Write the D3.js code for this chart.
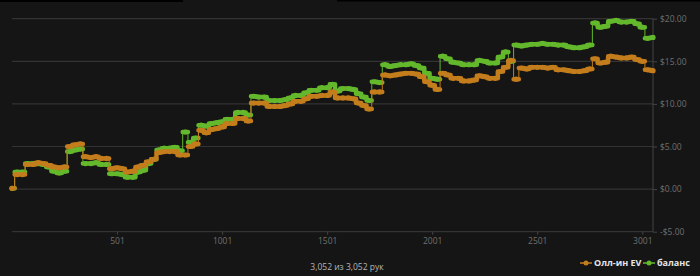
<!DOCTYPE html>
<html>
<head>
<meta charset="utf-8">
<script src="https://cdn.jsdelivr.net/npm/d3@7"></script>
<style>
  html, body { margin: 0; padding: 0; background: #151515; }
  svg { display: block; }
</style>
</head>
<body>
<svg id="chart" width="700" height="276"></svg>
<script>
// hands sampled along the x axis
var hands = [1, 26, 51, 76, 101, 126, 151, 176, 201, 226, 251, 276, 301, 326, 351, 376, 401, 426, 451, 476,
  501, 526, 551, 576, 601, 626, 651, 676, 701, 726, 751, 776, 801, 826, 851, 876, 901, 926, 951, 976,
  1001, 1026, 1051, 1076, 1101, 1126, 1151, 1176, 1201, 1226, 1251, 1276, 1301, 1326, 1351, 1376, 1401, 1426, 1451, 1476,
  1501, 1526, 1551, 1576, 1601, 1626, 1651, 1676, 1701, 1726, 1751, 1776, 1801, 1826, 1851, 1876, 1901, 1926, 1951, 1976,
  2001, 2026, 2051, 2076, 2101, 2126, 2151, 2176, 2201, 2226, 2251, 2276, 2301, 2326, 2351, 2376, 2401, 2426, 2451, 2476,
  2501, 2526, 2551, 2576, 2601, 2626, 2651, 2676, 2701, 2726, 2751, 2776, 2801, 2826, 2851, 2876, 2901, 2926, 2951, 2976,
  3001, 3026, 3052];

// all-in EV (orange)
var allinEV = [0.1, 1.7, 1.7, 2.9, 2.9, 3.1, 3.0, 2.8, 2.6, 2.5, 2.6, 5.0, 5.2, 5.3, 3.8, 3.7, 3.8, 3.6, 3.6, 2.4,
  2.5, 2.4, 2.0, 2.1, 2.6, 2.8, 3.2, 3.5, 4.3, 4.4, 4.4, 4.4, 4.0, 4.0, 5.0, 5.3, 6.9, 6.6, 7.0, 7.1,
  7.3, 7.7, 7.7, 8.3, 8.3, 8.0, 10.1, 10.1, 10.1, 9.7, 9.7, 9.7, 9.8, 10.0, 10.3, 10.3, 10.6, 10.9, 10.9, 11.0,
  11.0, 11.4, 10.7, 10.7, 10.7, 10.6, 10.1, 9.8, 9.4, 11.4, 11.4, 13.4, 13.3, 13.4, 13.5, 13.6, 13.6, 13.5, 13.2, 12.6,
  12.2, 11.7, 13.6, 13.4, 13.0, 13.0, 12.7, 12.7, 12.8, 13.3, 13.2, 13.0, 13.0, 13.8, 14.3, 15.1, 12.9, 14.2, 14.1, 14.3,
  14.3, 14.3, 14.2, 14.3, 14.0, 14.0, 13.9, 13.8, 13.8, 13.9, 14.1, 15.3, 14.8, 14.9, 15.6, 15.5, 15.4, 15.4, 15.5, 15.2,
  15.0, 14.0, 13.9];

// balance (green)
var balance = [0.1, 2.0, 2.0, 3.0, 3.0, 3.0, 2.9, 2.6, 2.1, 1.9, 2.1, 4.4, 4.6, 4.7, 3.0, 3.0, 3.1, 2.9, 2.9, 1.8,
  1.8, 1.7, 1.4, 1.4, 2.0, 2.2, 3.0, 3.5, 4.6, 4.8, 4.8, 4.9, 4.5, 6.7, 5.5, 6.0, 7.5, 7.4, 7.7, 7.8,
  7.9, 8.2, 8.2, 9.0, 9.0, 8.7, 10.9, 10.8, 10.8, 10.4, 10.4, 10.4, 10.5, 10.7, 11.0, 11.0, 11.3, 11.6, 11.6, 11.9,
  11.9, 12.3, 11.5, 11.8, 11.8, 11.7, 11.2, 10.8, 10.4, 12.6, 12.5, 14.6, 14.4, 14.5, 14.6, 14.6, 14.7, 14.5, 14.2, 13.6,
  13.0, 12.9, 15.6, 15.3, 14.9, 14.8, 14.6, 14.6, 14.6, 15.1, 15.0, 14.8, 14.8, 15.5, 16.1, 15.0, 16.9, 16.8, 16.9, 17.0,
  17.0, 17.1, 17.0, 17.0, 16.9, 16.9, 16.7, 16.6, 16.6, 16.7, 16.9, 19.5, 19.0, 19.1, 19.7, 19.8, 19.6, 19.6, 19.7, 19.4,
  19.0, 17.7, 17.8];

var xTicks = [501, 1001, 1501, 2001, 2501, 3001];
var yTicks = [-5, 0, 5, 10, 15, 20];
var seriesNames = ["Олл-ин EV", "баланс"];
var seriesColors = ["#c47d1c", "#63b82c"];
var footerText = "3,052 из 3,052 рук";

var svg = d3.select("#chart");

// thin black strip along the top edge
svg.append("rect").attr("x", 0).attr("y", 0).attr("width", 183).attr("height", 2).attr("fill", "#000");
svg.append("rect").attr("x", 337).attr("y", 0).attr("width", 363).attr("height", 1.5).attr("fill", "#000");

var x = d3.scaleLinear().domain([1, 3052]).range([12, 653]);
var y = d3.scaleLinear().domain([-5, 20]).range([231.7, 18.7]);

// horizontal grid
svg.append("g")
  .selectAll("line")
  .data(yTicks)
  .enter().append("line")
  .attr("x1", 12).attr("x2", 653)
  .attr("y1", d => y(d)).attr("y2", d => y(d))
  .style("stroke", "#333")
  .style("stroke-width", 1.2);

// right axis
var yAxis = d3.axisRight(y)
  .tickValues(yTicks)
  .tickSize(4)
  .tickPadding(3)
  .tickFormat(d => (d < 0 ? "-$" : "$") + Math.abs(d).toFixed(2));

var gy = svg.append("g").attr("transform", "translate(653,0)").call(yAxis);
gy.select(".domain").attr("stroke", "#444").attr("d", "M0," + y(20) + "V" + y(-5));
gy.selectAll(".tick line").attr("stroke", "#444");
gy.selectAll("text")
  .attr("fill", "#707070")
  .style("font-family", "'Open Sans', sans-serif")
  .style("font-size", "8.5px");

// bottom axis
var xAxis = d3.axisBottom(x)
  .tickValues(xTicks)
  .tickSize(3)
  .tickPadding(3)
  .tickFormat(d => d);

var gx = svg.append("g").attr("transform", "translate(0," + y(-5) + ")").call(xAxis);
gx.select(".domain").remove();
gx.selectAll(".tick line").attr("stroke", "#444");
gx.selectAll("text")
  .attr("fill", "#707070")
  .style("font-family", "'Open Sans', sans-serif")
  .style("font-size", "8.5px");

// series: green first, orange drawn on top
var series = [
  { name: seriesNames[1], values: balance, color: seriesColors[1] },
  { name: seriesNames[0], values: allinEV, color: seriesColors[0] }
];

// each sample is drawn as a thick step; small moves stay thick, big jumps get a thin line
var bigJump = 0.9;

series.forEach(function(s) {
  var g = svg.append("g");
  var n = hands.length;
  var thick = "", thin = "";
  for (var i = 0; i < n; i++) {
    var xl = i == 0 ? x(hands[0]) : (x(hands[i - 1]) + x(hands[i])) / 2;
    var xr = i == n - 1 ? x(hands[n - 1]) : (x(hands[i]) + x(hands[i + 1])) / 2;
    var yv = y(s.values[i]);
    thick += "M" + xl + "," + yv + "H" + xr;
    if (i < n - 1) {
      var yn = y(s.values[i + 1]);
      var seg = "M" + xr + "," + yv + "V" + yn;
      if (Math.abs(s.values[i + 1] - s.values[i]) < bigJump) thick += seg;
      else thin += seg;
    }
  }
  g.append("path").attr("d", thin).attr("fill", "none")
    .style("stroke", s.color).style("stroke-width", 1);
  g.append("path").attr("d", thick).attr("fill", "none")
    .style("stroke", s.color).style("stroke-width", 4.5)
    .style("stroke-linecap", "round").style("stroke-linejoin", "round");
  g.selectAll("circle")
    .data(hands)
    .enter().append("circle")
    .attr("cx", d => x(d))
    .attr("cy", (d, i) => y(s.values[i]))
    .attr("r", 2.6)
    .attr("fill", s.color);
});

// footer
svg.append("text")
  .attr("x", 347).attr("y", 270)
  .attr("text-anchor", "middle")
  .attr("fill", "#b5b5b5")
  .style("font-family", "'Open Sans', sans-serif")
  .style("font-size", "8.5px")
  .text(footerText);

// legend
var legendX = [580, 643];
seriesNames.forEach(function(n, i) {
  var g = svg.append("g").attr("transform", "translate(" + legendX[i] + ",263)");
  g.append("line").attr("x1", 0).attr("x2", 12).attr("y1", 0).attr("y2", 0)
    .style("stroke", seriesColors[i]).style("stroke-width", 1.5);
  g.append("circle").attr("cx", 6).attr("cy", 0).attr("r", 2.5).attr("fill", seriesColors[i]);
  g.append("text")
    .attr("x", 14).attr("y", 3.3)
    .attr("fill", "#e6e6e6")
    .style("font-family", "'Open Sans', sans-serif")
    .style("font-size", "9px")
    .style("font-weight", "bold")
    .text(n);
});
</script>
</body>
</html>
